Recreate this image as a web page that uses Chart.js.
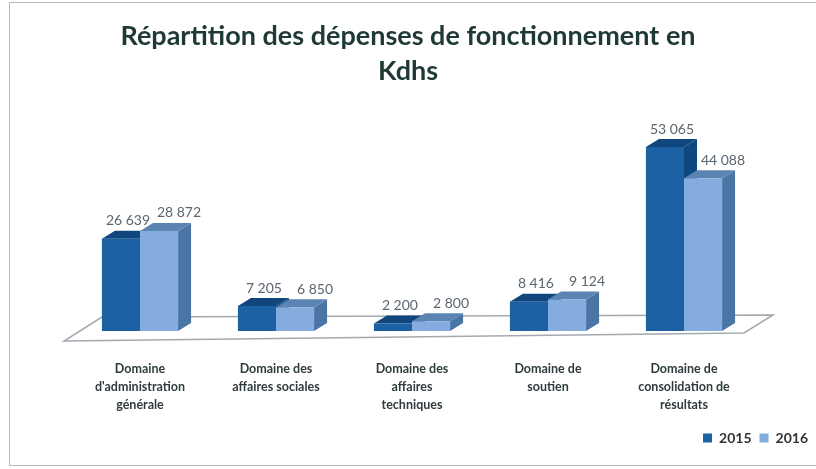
<!DOCTYPE html>
<html><head><meta charset="utf-8">
<script src="https://cdn.jsdelivr.net/npm/chart.js@4.4.1/dist/chart.umd.min.js"></script>
<style>html,body{margin:0;padding:0;background:#fff;}#wrap{width:816px;height:469px;position:relative;}</style>
</head><body><div id="wrap"><canvas id="c" width="816" height="469"></canvas></div>
<script>
const categories = [
  ["Domaine", "d'administration", "générale"],
  ["Domaine des", "affaires sociales"],
  ["Domaine des", "affaires", "techniques"],
  ["Domaine de", "soutien"],
  ["Domaine de", "consolidation de", "résultats"]
];
const seriesNames = ["2015", "2016"];
const values2015 = [26639, 7205, 2200, 8416, 53065];
const values2016 = [28872, 6850, 2800, 9124, 44088];
const titleLines = ["Répartition des dépenses de fonctionnement en", "Kdhs"];

const FRONT = ["#1c61a4", "#84acdf"];
const TOP = ["#11467c", "#5b84b3"];
const SIDE = ["#0f4880", "#4a75a4"];
const DX = 13, DY = 8;

function fmt(v){ return String(v).replace(/\B(?=(\d{3})+(?!\d))/g, "\u202F"); }

const plugin3d = {
  id: 'bars3d',
  beforeDraw(chart){
    const ctx = chart.ctx;
    ctx.save();
    ctx.fillStyle = '#fff';
    ctx.fillRect(0,0,chart.width,chart.height);
    ctx.strokeStyle = '#b9bdc2';
    ctx.lineWidth = 1;
    ctx.strokeRect(9.5, 2.5, 820, 463);
    ctx.restore();
  },
  beforeDatasetsDraw(chart){
    const ctx = chart.ctx, a = chart.chartArea;
    ctx.save();
    ctx.beginPath();
    ctx.moveTo(a.left - 8, a.bottom + 10);
    ctx.lineTo(a.right - 8, a.bottom + 2);
    ctx.lineTo(a.right + 21, a.bottom - 16);
    ctx.lineTo(a.left + 30, a.bottom - 14);
    ctx.closePath();
    ctx.fillStyle = '#fff';
    ctx.fill();
    ctx.strokeStyle = '#a4a9b0';
    ctx.lineWidth = 1.5;
    ctx.stroke();
    chart.data.datasets.forEach((ds, di) => {
      const meta = chart.getDatasetMeta(di);
      meta.data.forEach(bar => {
        const x0 = bar.x - bar.width/2, x1 = bar.x + bar.width/2;
        const t = bar.y, b = bar.base;
        ctx.fillStyle = SIDE[di];
        ctx.beginPath();
        ctx.moveTo(x1, t); ctx.lineTo(x1+DX, t-DY); ctx.lineTo(x1+DX, b-DY); ctx.lineTo(x1, b);
        ctx.closePath(); ctx.fill();
        ctx.fillStyle = TOP[di];
        ctx.beginPath();
        ctx.moveTo(x0, t); ctx.lineTo(x0+DX, t-DY); ctx.lineTo(x1+DX, t-DY); ctx.lineTo(x1, t);
        ctx.closePath(); ctx.fill();
      });
    });
    ctx.restore();
  },
  afterDatasetsDraw(chart){
    const ctx = chart.ctx;
    ctx.save();
    ctx.font = '14px Lato';
    ctx.fillStyle = '#5b6570';
    ctx.textAlign = 'center';
    ctx.textBaseline = 'middle';
    chart.data.datasets.forEach((ds, di) => {
      const meta = chart.getDatasetMeta(di);
      meta.data.forEach((bar, i) => {
        const off = di === 0 ? 7 : 20;
        ctx.fillText(fmt(ds.data[i]), bar.x + off, bar.y - 18);
      });
    });
    ctx.restore();
  }
};

new Chart(document.getElementById('c'), {
  type: 'bar',
  data: {
    labels: categories,
    datasets: [
      { label: seriesNames[0], data: values2015, backgroundColor: FRONT[0], borderWidth: 0 },
      { label: seriesNames[1], data: values2016, backgroundColor: FRONT[1], borderWidth: 0 }
    ]
  },
  options: {
    responsive: false,
    animation: false,
    layout: { padding: { left: 0, right: 0, top: 0, bottom: 14 } },
    datasets: { bar: { categoryPercentage: 0.56, barPercentage: 1.0 } },
    scales: {
      x: {
        grid: { display: false }, border: { display: false },
        ticks: { padding: 21, color: '#2f3b3d', font: { family: 'Lato', size: 12.5, weight: 'bold', lineHeight: 1.45 }, maxRotation: 0, autoSkip: false },
        afterFit(s){ s.height = 92; }
      },
      y: {
        min: 0, max: 64000,
        display: true,
        grid: { display: false }, border: { display: false },
        ticks: { display: false },
        afterFit(s){ s.width = 72; }
      },
      yR: {
        position: 'right', display: true,
        grid: { display: false }, border: { display: false },
        ticks: { display: false },
        afterFit(s){ s.width = 64; }
      }
    },
    plugins: {
      title: {
        display: true, text: titleLines, color: '#1f3a36',
        font: { family: 'Lato', size: 27, weight: 'bold', lineHeight: 1.3 },
        padding: { top: 19, bottom: 20 }
      },
      legend: {
        position: 'bottom', align: 'end',
        labels: { boxWidth: 9, boxHeight: 9, padding: 8, color: '#333', font: { family: 'Lato', size: 14, weight: 'bold' } }
      },
      tooltip: { enabled: false }
    }
  },
  plugins: [plugin3d]
});
</script></body></html>
